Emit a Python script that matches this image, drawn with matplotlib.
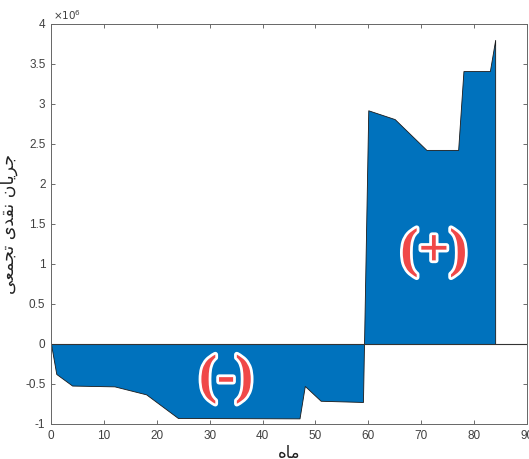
import matplotlib
matplotlib.use("Agg")
import matplotlib.pyplot as plt
import matplotlib.patheffects as pe
from matplotlib.ticker import FuncFormatter

# ماه | جریان نقدی تجمعی (ریال)
months = [0, 1, 4, 12, 18, 24, 47, 48, 51, 59, 60, 65, 71, 77, 78, 83, 84]
cash = [0, -0.375e6, -0.52e6, -0.53e6, -0.63e6, -0.925e6, -0.93e6, -0.525e6,
        -0.71e6, -0.725e6, 2.92e6, 2.81e6, 2.425e6, 2.425e6, 3.41e6, 3.41e6, 3.8e6]

# Persian labels, pre-shaped (presentation forms, visual order)
ylabel_fa = "\uFBFD\uFECC\uFEE4\uFEA0\uFE97 \uFBFC\uFEAA\uFED8\uFEE7 \uFEE5\uFE8E\uFBFE\uFEAE\uFE9F"
xlabel_fa = "\uFEE9\uFE8E\uFEE3"

plt.rcParams['font.family'] = ['Liberation Sans', 'DejaVu Sans']

fig = plt.figure(figsize=(5.29, 4.59), dpi=100)
ax = fig.add_subplot(111)
fig.subplots_adjust(left=0.0964, right=0.996, bottom=0.0763, top=0.948)

ax.fill_between(months, cash, 0, facecolor='#0072BD', edgecolor='#1a1a1a', linewidth=0.6)
ax.axhline(0, color='#333333', linewidth=0.8)

ax.set_xlim(0, 90)
ax.set_ylim(-1e6, 4e6)
ax.set_xticks(range(0, 91, 10))
ax.set_yticks([v * 0.5e6 for v in range(-2, 9)])
ax.yaxis.set_major_formatter(FuncFormatter(lambda v, p: f'{v / 1e6:g}'))
ax.tick_params(direction='in', top=True, right=True, length=3, width=0.6,
               colors='#555555', labelcolor='#404040', labelsize=8.5, pad=4)
for s in ax.spines.values():
    s.set_color('#666666')
    s.set_linewidth(0.7)

ax.text(0.005, 1.004, r'$\times10^6$', transform=ax.transAxes, fontsize=7.5,
        color='#404040', va='bottom', ha='left')

ax.set_ylabel(ylabel_fa, family=['DejaVu Sans'], fontsize=12.5, color='#222222', labelpad=5)
ax.set_xlabel(xlabel_fa, family=['DejaVu Sans'], fontsize=12, color='#222222', labelpad=2)

stroke = [pe.withStroke(linewidth=4, foreground='white')]
ax.text(33.1, -0.44e6, '(-)', fontsize=39, fontweight='bold', family=['Liberation Serif'],
        color='#f04848', ha='center', va='center', path_effects=stroke)
ax.text(72.4, 1.14e6, '(+)', fontsize=39, fontweight='bold', family=['Liberation Serif'],
        color='#f04848', ha='center', va='center', path_effects=stroke)

fig.savefig('out.png', dpi=100)
